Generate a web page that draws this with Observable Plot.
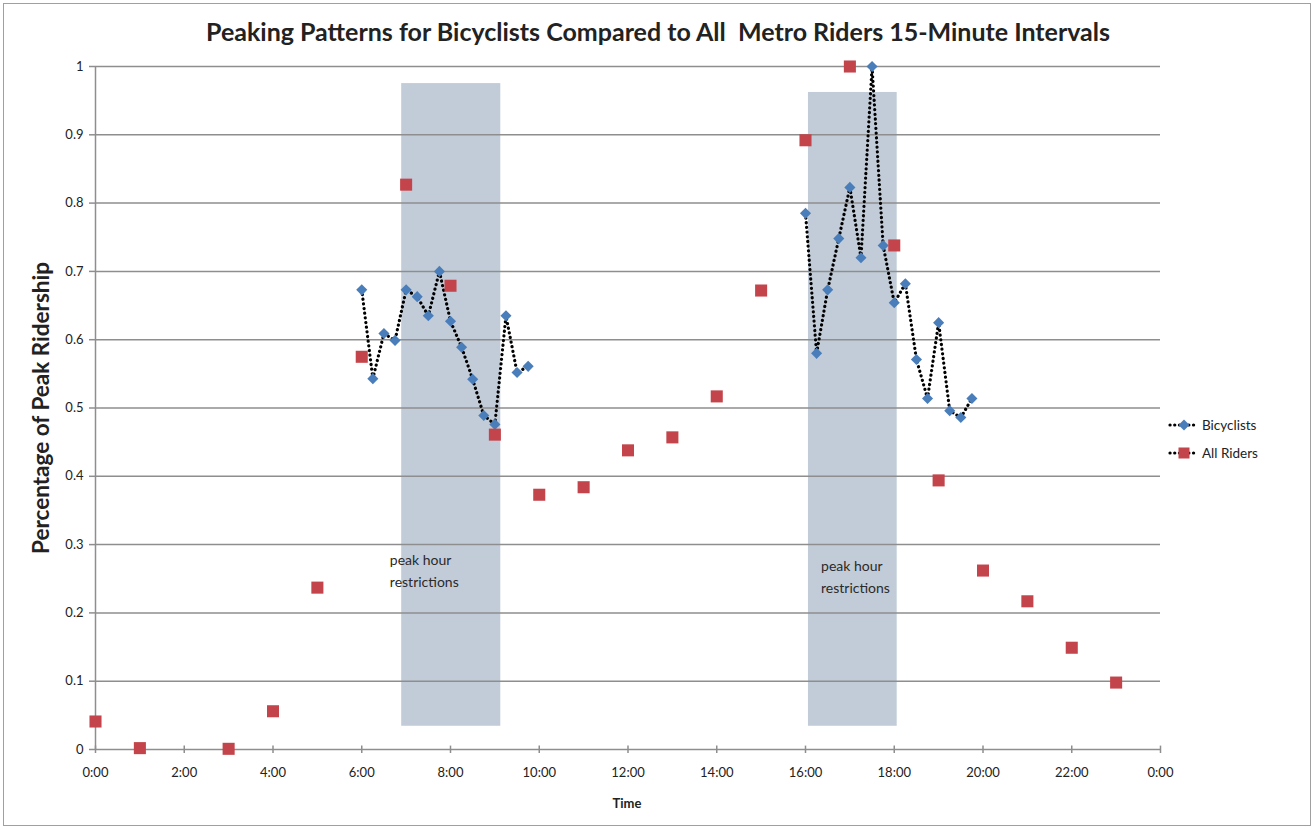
<!DOCTYPE html>
<html>
<head>
<meta charset="utf-8">
<script src="https://cdn.jsdelivr.net/npm/d3@7"></script>
<script src="https://cdn.jsdelivr.net/npm/@observablehq/plot@0.6"></script>
<style>
  html, body { margin: 0; padding: 0; background: #fff; }
  #wrap { position: relative; width: 1316px; height: 830px; font-family: Lato, "Open Sans", sans-serif; color: #222; overflow: hidden; }
  #frame { position: absolute; left: 3px; top: 3px; width: 1308px; height: 823px; border: 1.5px solid #a0a0a0; box-sizing: border-box; pointer-events: none; }
  #title { position: absolute; left: 0; width: 1316px; top: 16px; text-align: center; font-weight: bold; font-size: 25px; white-space: pre; }
  #ylabel { position: absolute; left: 40px; top: 408px; transform: translate(-50%, -50%) rotate(-90deg); font-weight: bold; font-size: 22.5px; white-space: nowrap; }
  #xlabel { position: absolute; left: 627px; top: 803px; transform: translate(-50%, -50%); font-weight: bold; font-size: 13px; }
  #legend { position: absolute; left: 1166px; top: 414px; font-size: 12.5px; }
  #chart { position: absolute; left: 0; top: 0; }
</style>
</head>
<body>
<div id="wrap">
  <div id="chart"></div>
  <div id="title">Peaking Patterns for Bicyclists Compared to All  Metro Riders 15-Minute Intervals</div>
  <div id="ylabel">Percentage of Peak Ridership</div>
  <div id="xlabel">Time</div>
  <div id="legend"></div>
  <div id="frame"></div>
</div>
<script>
// ---- Data ----
const bikeTimes = ["6:00","6:15","6:30","6:45","7:00","7:15","7:30","7:45","8:00","8:15","8:30","8:45","9:00","9:15","9:30","9:45",
                   "16:00","16:15","16:30","16:45","17:00","17:15","17:30","17:45","18:00","18:15","18:30","18:45","19:00","19:15","19:30","19:45"];
const bikeValues = [0.673,0.543,0.609,0.599,0.673,0.663,0.635,0.700,0.627,0.589,0.542,0.489,0.476,0.635,0.552,0.561,
                    0.785,0.580,0.673,0.748,0.823,0.720,1.000,0.738,0.654,0.682,0.571,0.514,0.625,0.496,0.486,0.514];
const bikePeriod = ["AM","AM","AM","AM","AM","AM","AM","AM","AM","AM","AM","AM","AM","AM","AM","AM",
                    "PM","PM","PM","PM","PM","PM","PM","PM","PM","PM","PM","PM","PM","PM","PM","PM"];
const riderTimes = ["0:00","1:00","3:00","4:00","5:00","6:00","7:00","8:00","9:00","10:00","11:00","12:00","13:00","14:00","15:00","16:00","17:00","18:00","19:00","20:00","21:00","22:00","23:00"];
const riderValues = [0.041,0.002,0.001,0.056,0.237,0.575,0.827,0.679,0.461,0.373,0.384,0.438,0.457,0.517,0.672,0.892,1.000,0.738,0.394,0.262,0.217,0.149,0.098];
const restrictStart = ["6:54","16:04"];
const restrictEnd = ["9:08","18:04"];
const restrictBottom = [0.034, 0.034];
const restrictTop = [0.975, 0.962];
const restrictLabel = ["peak hour\nrestrictions", "peak hour\nrestrictions"];
const restrictLabelTime = ["6:38", "16:21"];
const restrictLabelLevel = [0.294, 0.285];
const xTicks = [0,2,4,6,8,10,12,14,16,18,20,22,24];
const xTickLabels = ["0:00","2:00","4:00","6:00","8:00","10:00","12:00","14:00","16:00","18:00","20:00","22:00","0:00"];
const yTicks = [0,0.1,0.2,0.3,0.4,0.5,0.6,0.7,0.8,0.9,1];
const yTickLabels = ["0","0.1","0.2","0.3","0.4","0.5","0.6","0.7","0.8","0.9","1"];

const toHours = s => { const [h, m] = s.split(":").map(Number); return h + m / 60; };

const bikes = bikeTimes.map((t, i) => ({x: toHours(t), y: bikeValues[i], period: bikePeriod[i]}));
const riders = riderTimes.map((t, i) => ({x: toHours(t), y: riderValues[i]}));
const zones = restrictStart.map((t, i) => ({x1: toHours(t), x2: toHours(restrictEnd[i]), y1: restrictBottom[i], y2: restrictTop[i],
  label: restrictLabel[i], lx: toHours(restrictLabelTime[i]), ly: restrictLabelLevel[i]}));

const blue = "#4a7ebb";
const red = "#c3444a";
const grid = "#8e8e8e";

const plot = Plot.plot({
  width: 1316,
  height: 830,
  marginTop: 66,
  marginBottom: 81,
  marginLeft: 95,
  marginRight: 156,
  style: {fontFamily: "Lato, 'Open Sans', sans-serif", fontSize: "12.5px", color: "#222", background: "transparent"},
  x: {domain: [0, 24]},
  y: {domain: [0, 1]},
  marks: [
    Plot.rect(zones, {x1: "x1", x2: "x2", y1: "y1", y2: "y2", fill: "#c2ccd8"}),
    Plot.ruleY(yTicks, {stroke: grid, strokeWidth: 1.5}),
    Plot.ruleX([0], {stroke: grid, strokeWidth: 1.5}),
    Plot.text(zones, {x: "lx", y: "ly", text: "label", textAnchor: "start", lineAnchor: "top", fontSize: 14, lineHeight: 1.6, fill: "#2a2a2a"}),
    Plot.axisY({ticks: yTicks, tickFormat: (d, i) => yTickLabels[i], tickSize: 6, tickPadding: 6, stroke: grid, strokeWidth: 1.5, label: null, fontSize: 13}),
    Plot.axisX({ticks: xTicks, tickFormat: (d, i) => xTickLabels[i], tickSize: 4, tickPadding: 14, stroke: grid, strokeWidth: 1.5, label: null, fontSize: 13}),
    Plot.ruleX(xTicks, {x: d => d, y1: 0, y2: 0.005, stroke: grid, strokeWidth: 1.5}),
    Plot.line(bikes, {x: "x", y: "y", z: "period", stroke: "#000", strokeWidth: 3.2, strokeDasharray: "0.1,4.6", strokeLinecap: "round"}),
    Plot.dot(bikes, {x: "x", y: "y", symbol: "diamond2", r: 5, fill: blue, stroke: "none"}),
    Plot.dot(riders, {x: "x", y: "y", symbol: "square", r: 6.8, fill: red, stroke: "none"})
  ]
});
document.getElementById("chart").appendChild(plot);

// legend
const lg = d3.select("#legend").append("svg").attr("width", 145).attr("height", 50).style("overflow", "visible");
[{label: "Bicyclists", color: blue, sym: "diamond"}, {label: "All Riders", color: red, sym: "square"}].forEach((d, i) => {
  const g = lg.append("g").attr("transform", `translate(0, ${11 + i * 28})`);
  g.append("line").attr("x1", 4).attr("x2", 32).attr("y1", 0).attr("y2", 0)
    .attr("stroke", "#000").attr("stroke-width", 3.2).attr("stroke-dasharray", "0.1,4.6").attr("stroke-linecap", "round");
  if (d.sym === "diamond") g.append("path").attr("d", "M18,-5.5L23.5,0L18,5.5L12.5,0Z").attr("fill", d.color);
  else g.append("rect").attr("x", 12.5).attr("y", -5.5).attr("width", 11).attr("height", 11).attr("fill", d.color);
  g.append("text").attr("x", 36).attr("y", 5).attr("font-size", 13.5).attr("font-family", "Lato, 'Open Sans', sans-serif").attr("fill", "#222").text(d.label);
});
</script>
</body>
</html>
